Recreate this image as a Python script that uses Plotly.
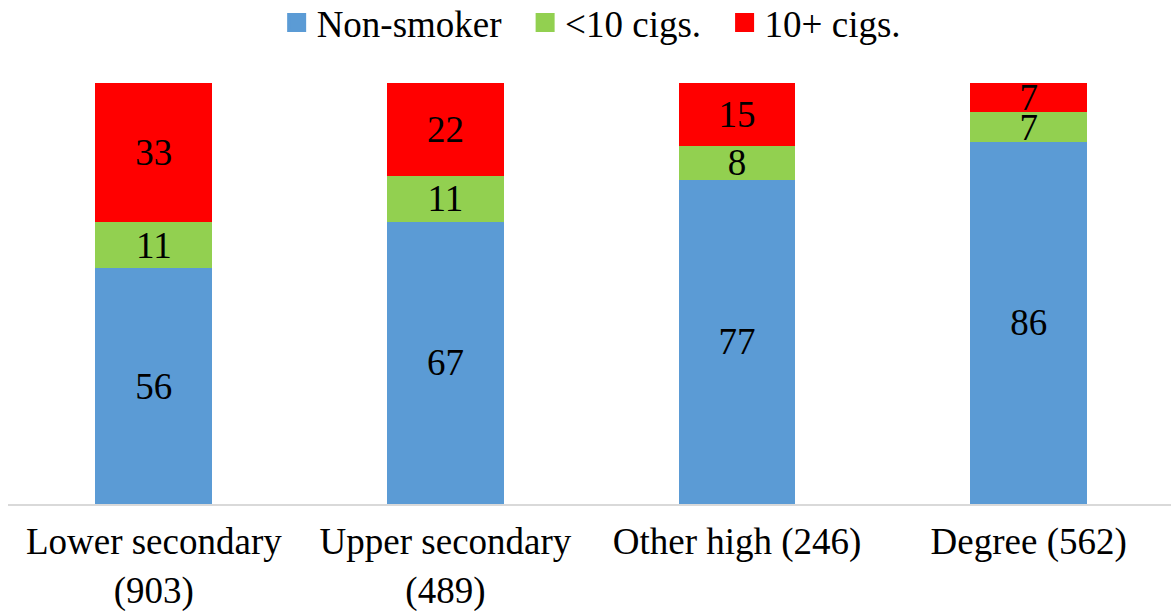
import plotly.graph_objects as go

categories = ["Lower secondary<br>(903)", "Upper secondary<br>(489)", "Other high (246)", "Degree (562)"]
non_smoker = [56, 67, 77, 86]
under_10 = [11, 11, 8, 7]
over_10 = [33, 22, 15, 7]

series = [
    ("Non-smoker", non_smoker, "#5B9BD5"),
    ("<10 cigs.", under_10, "#92D050"),
    ("10+ cigs.", over_10, "#FF0000"),
]

FONT = "Liberation Serif, Times New Roman, serif"
x_idx = list(range(len(categories)))
PAD = "\u00a0\u00a0"

fig = go.Figure()
for name, vals, color in series:
    fig.add_trace(go.Bar(
        x=x_idx, y=vals, name=name, showlegend=False,
        marker=dict(color=color, line=dict(width=0)),
        width=0.4,
        text=[str(v) for v in vals],
        textposition="inside", insidetextanchor="middle",
        constraintext="none", textangle=0,
        textfont=dict(family=FONT, size=37, color="black"),
        hoverinfo="skip",
    ))
    fig.add_trace(go.Scatter(
        x=[None], y=[None], mode="markers", name=name + PAD,
        marker=dict(symbol="square", size=19, color=color,
                    line=dict(width=3, color=color)),
        showlegend=True,
    ))

fig.update_layout(
    barmode="stack",
    width=1171, height=611,
    margin=dict(l=8, r=0, t=83, b=107, autoexpand=False),
    paper_bgcolor="white", plot_bgcolor="white",
    font=dict(family=FONT, size=37, color="black"),
    legend=dict(
        orientation="h", x=0.231, xanchor="left", y=1.216, yanchor="top",
        font=dict(family=FONT, size=37, color="black"),
        itemwidth=30, bgcolor="rgba(0,0,0,0)", traceorder="normal",
    ),
    xaxis=dict(
        tickmode="array", tickvals=x_idx, ticktext=categories,
        range=[-0.5, 3.488], showgrid=False, zeroline=False,
        showline=True, linecolor="#D9D9D9", linewidth=2,
        ticks="", ticklabelstandoff=4, automargin=False,
        tickfont=dict(family=FONT, size=37, color="black"),
        fixedrange=True,
    ),
    yaxis=dict(range=[0, 100], visible=False, showgrid=False, zeroline=False,
               fixedrange=True, automargin=False),
)

fig.write_html("out.html")
